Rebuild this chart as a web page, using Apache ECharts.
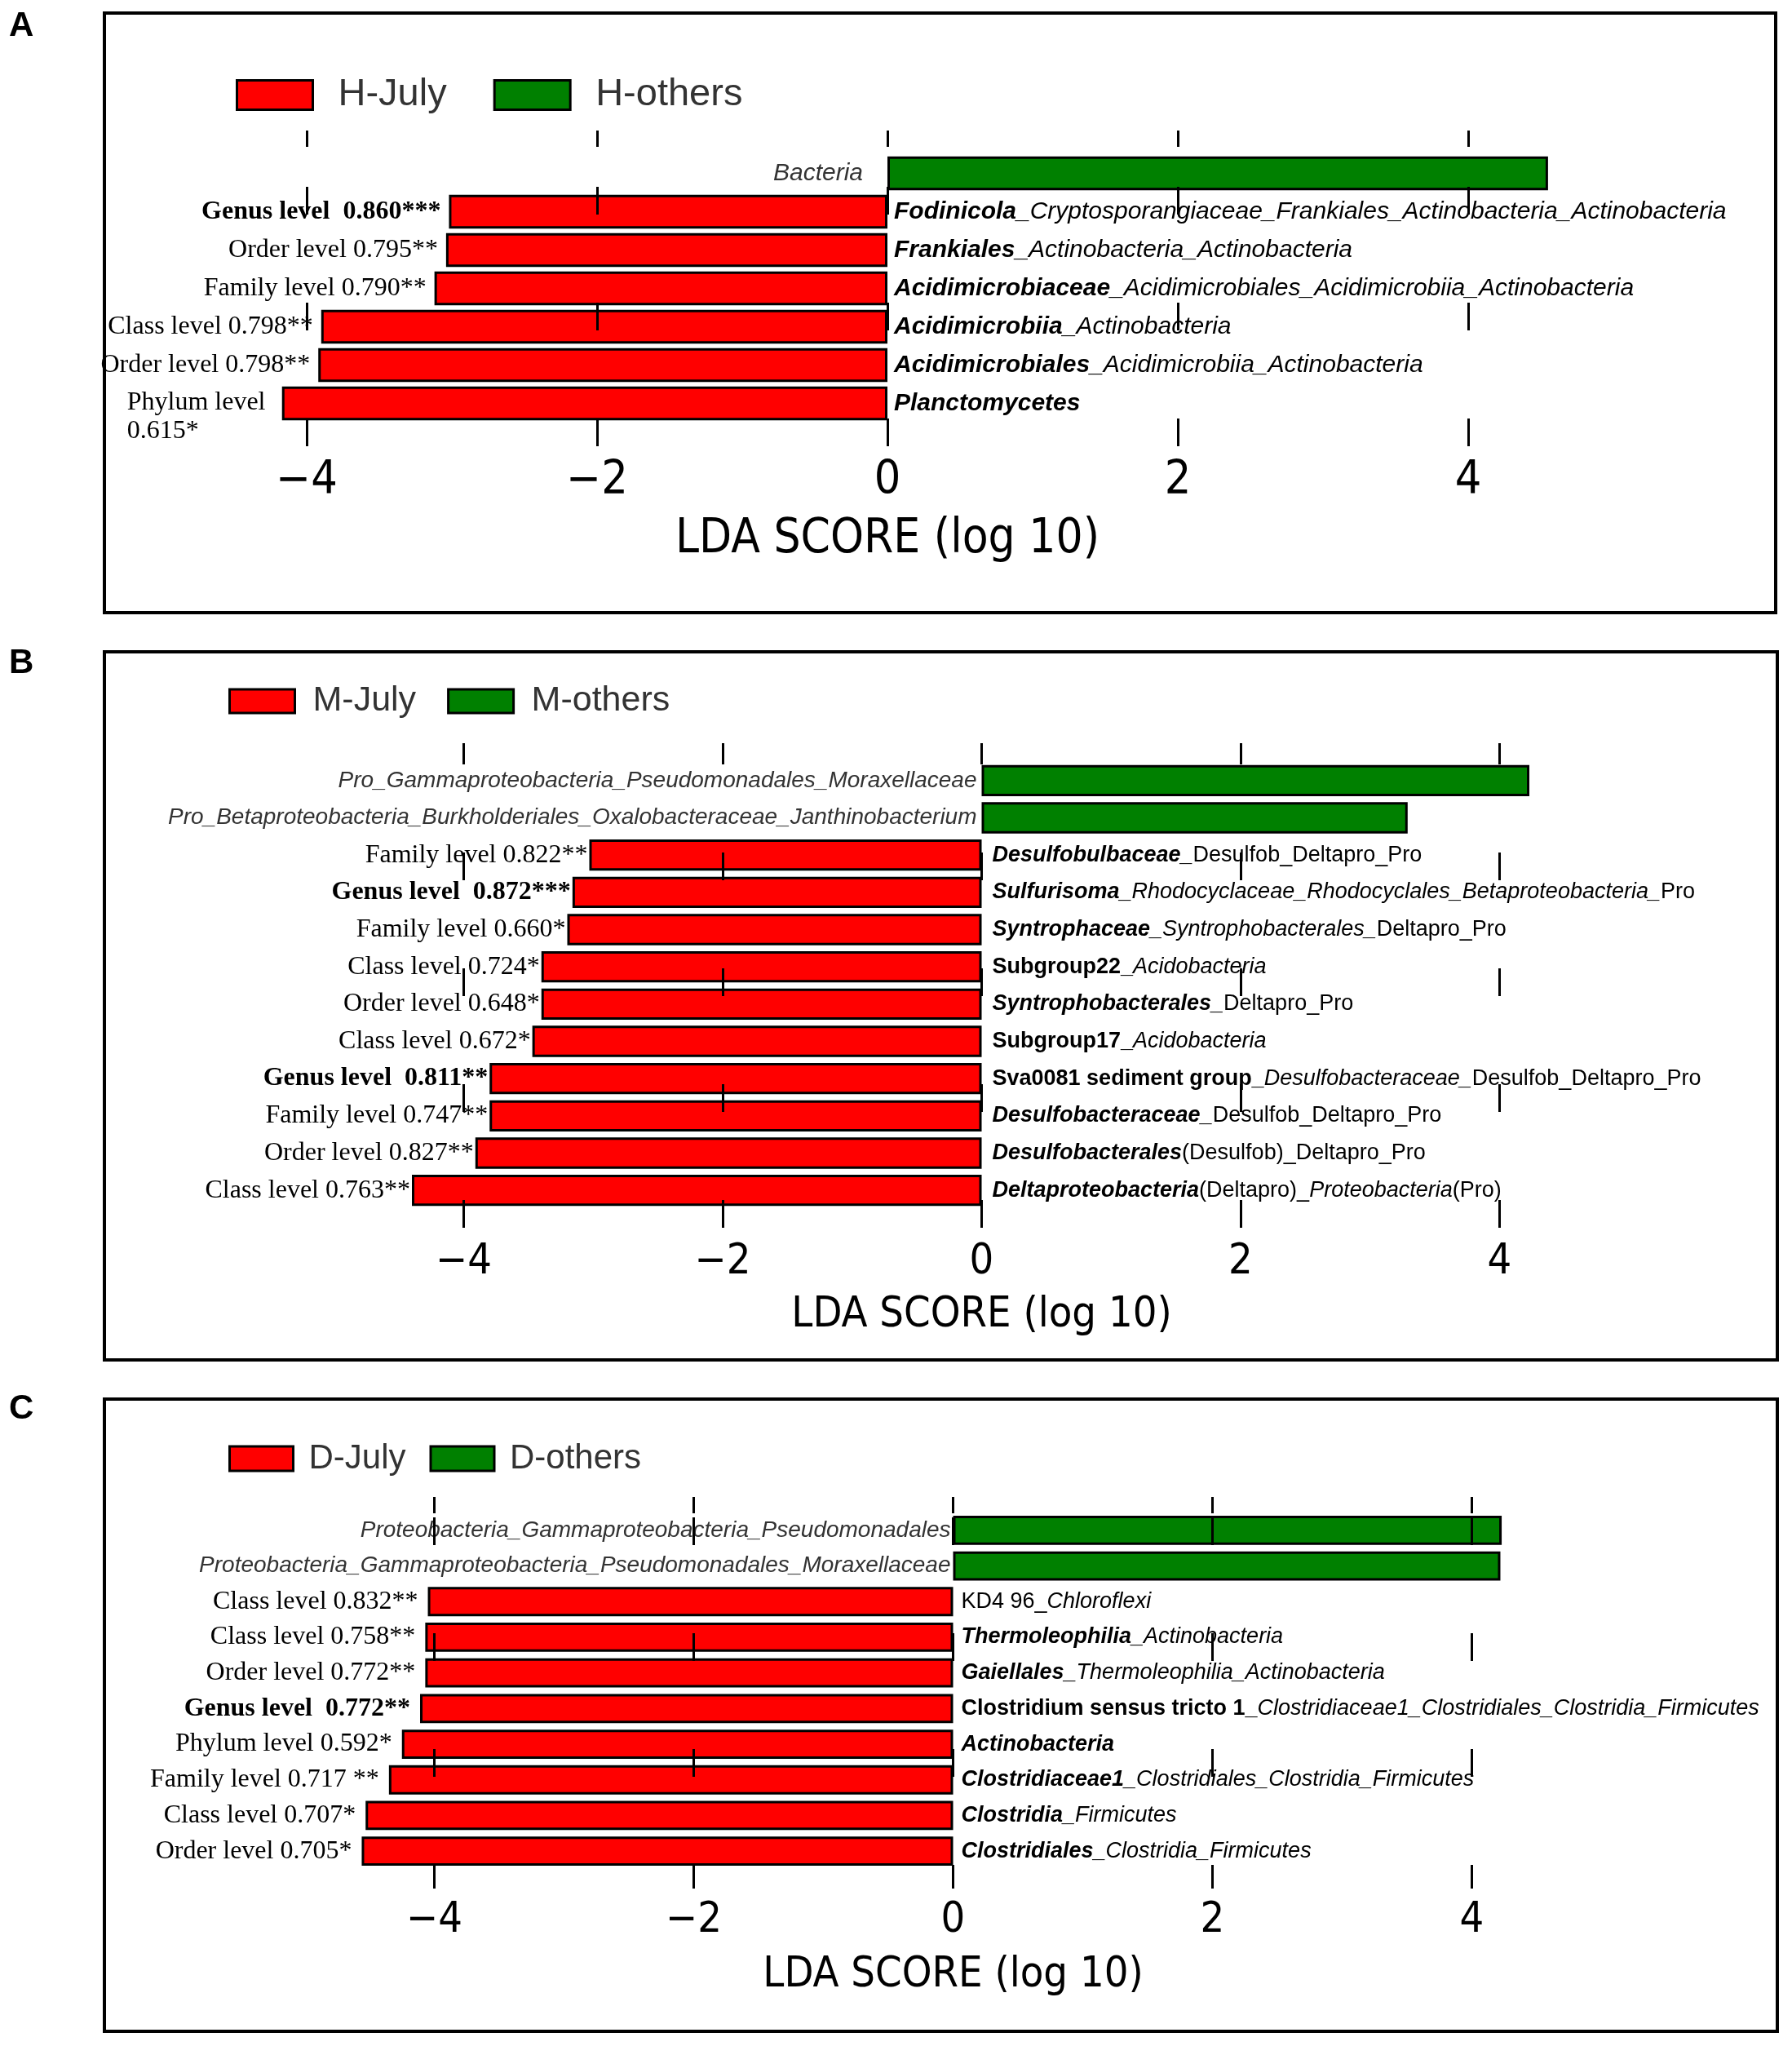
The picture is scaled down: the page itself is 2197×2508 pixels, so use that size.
<!DOCTYPE html>
<html lang="en">
<head>
<meta charset="UTF-8">
<title>LDA scores July vs others</title>
<script src="https://cdn.jsdelivr.net/npm/echarts@6/dist/echarts.min.js"></script>
<style>html,body{margin:0;padding:0;background:#fff;}</style>
</head>
<body>
<div id="main" style="width:2197px;height:2508px;"></div>
<script type="text/javascript">
// panel A (H)
var aTaxa = ['Bacteria',
    'Fodinicola_Cryptosporangiaceae_Frankiales_Actinobacteria_Actinobacteria',
    'Frankiales_Actinobacteria_Actinobacteria',
    'Acidimicrobiaceae_Acidimicrobiales_Acidimicrobiia_Actinobacteria',
    'Acidimicrobiia_Actinobacteria',
    'Acidimicrobiales_Acidimicrobiia_Actinobacteria',
    'Planctomycetes'];
var aJuly = ['-', -3.02, -3.04, -3.12, -3.90, -3.92, -4.17];
var aOthers = [4.55, '-', '-', '-', '-', '-', '-'];
var aLevels = ['', 'Genus level  0.860***', 'Order level 0.795**', 'Family level 0.790**',
    'Class level 0.798**', 'Order level 0.798**', 'Phylum level\n0.615*'];

// panel B (M)
var bTaxa = ['Pro_Gammaproteobacteria_Pseudomonadales_Moraxellaceae',
    'Pro_Betaproteobacteria_Burkholderiales_Oxalobacteraceae_Janthinobacterium',
    'Desulfobulbaceae_Desulfob_Deltapro_Pro',
    'Sulfurisoma_Rhodocyclaceae_Rhodocyclales_Betaproteobacteria_Pro',
    'Syntrophaceae_Syntrophobacterales_Deltapro_Pro',
    'Subgroup22_Acidobacteria',
    'Syntrophobacterales_Deltapro_Pro',
    'Subgroup17_Acidobacteria',
    'Sva0081 sediment group_Desulfobacteraceae_Desulfob_Deltapro_Pro',
    'Desulfobacteraceae_Desulfob_Deltapro_Pro',
    'Desulfobacterales(Desulfob)_Deltapro_Pro',
    'Deltaproteobacteria(Deltapro)_Proteobacteria(Pro)'];
var bJuly = ['-', '-', -3.03, -3.16, -3.20, -3.40, -3.40, -3.47, -3.80, -3.80, -3.91, -4.40];
var bOthers = [4.23, 3.29, '-', '-', '-', '-', '-', '-', '-', '-', '-', '-'];
var bLevels = ['', '', 'Family level 0.822**', 'Genus level  0.872***', 'Family level 0.660*',
    'Class level 0.724*', 'Order level 0.648*', 'Class level 0.672*', 'Genus level  0.811**',
    'Family level 0.747**', 'Order level 0.827**', 'Class level 0.763**'];

// panel C (D)
var cTaxa = ['Proteobacteria_Gammaproteobacteria_Pseudomonadales',
    'Proteobacteria_Gammaproteobacteria_Pseudomonadales_Moraxellaceae',
    'KD4 96_Chloroflexi',
    'Thermoleophilia_Actinobacteria',
    'Gaiellales_Thermoleophilia_Actinobacteria',
    'Clostridium sensus tricto 1_Clostridiaceae1_Clostridiales_Clostridia_Firmicutes',
    'Actinobacteria',
    'Clostridiaceae1_Clostridiales_Clostridia_Firmicutes',
    'Clostridia_Firmicutes',
    'Clostridiales_Clostridia_Firmicutes'];
var cJuly = ['-', '-', -4.05, -4.07, -4.07, -4.11, -4.25, -4.35, -4.53, -4.56];
var cOthers = [4.23, 4.22, '-', '-', '-', '-', '-', '-', '-', '-'];
var cLevels = ['', '', 'Class level 0.832**', 'Class level 0.758**', 'Order level 0.772**',
    'Genus level  0.772**', 'Phylum level 0.592*', 'Family level 0.717 **',
    'Class level 0.707*', 'Order level 0.705*'];

var ldaTicks = [-4, -2, 0, 2, 4];

// layout of the three panels (pixels)
var panels = [
    {letter: 'A', names: ['H-July', 'H-others'], taxa: aTaxa, july: aJuly, others: aOthers, levels: aLevels,
     frame: [128, 16, 2049, 735], letterTop: 6, zero: 1088, unit: 178, band: [189, 518], gap: '12%',
     lines: [160, 547, 229], tickFont: 57, nameFont: 58, margin: 15, nameGap: 86,
     taxFont: 30, greenFont: 30, greenDist: 30, taxDist: 8, levelDist: 10,
     lg: {left: 284, top: 88, w: 93, h: 36, font: 47, gap: 57, pad: 26}},
    {letter: 'B', names: ['M-July', 'M-others'], taxa: bTaxa, july: bJuly, others: bOthers, levels: bLevels,
     frame: [128, 799, 2051, 868], letterTop: 787, zero: 1203.5, unit: 158.75, band: [934, 1482], gap: '16%',
     lines: [911, 1507, 1045], tickFont: 52, nameFont: 52, margin: 14, nameGap: 79,
     taxFont: 27, greenFont: 28, greenDist: 6, taxDist: 13, levelDist: 2,
     lg: {left: 275, top: 833, w: 80, h: 29, font: 43, gap: 38, pad: 17}},
    {letter: 'C', names: ['D-July', 'D-others'], taxa: cTaxa, july: cJuly, others: cOthers, levels: cLevels,
     frame: [128, 1715, 2051, 775], letterTop: 1701, zero: 1168.5, unit: 159, band: [1854, 2291], gap: '18%',
     lines: [1835, 2315, 1860], tickFont: 52, nameFont: 52, margin: 13, nameGap: 80,
     taxFont: 27, greenFont: 28, greenDist: 3, taxDist: 10, levelDist: 12,
     lg: {left: 275, top: 1762, w: 78, h: 30, font: 42, gap: 29, pad: 14}}
];

var plainTokens = ['Desulfob', 'Deltapro', 'Pro', '(Desulfob)', '(Deltapro)', '(Pro)'];
var uprightHeads = ['Subgroup22', 'Subgroup17', 'Sva0081 sediment group', 'Clostridium sensus tricto 1'];

function taxonRich(name) {
    var parts = name.split(/(_|\([^)]*\))/).filter(function (s) { return s !== ''; });
    var out = '', st = 'bi';
    parts.forEach(function (p, k) {
        if (p !== '_') {
            if (k === 0) {
                st = p.indexOf('KD4') === 0 ? 'r' : (uprightHeads.indexOf(p) >= 0 ? 'b' : 'bi');
            } else {
                st = plainTokens.indexOf(p) >= 0 ? 'r' : 'i';
            }
        }
        out += '{' + st + '|' + p + '}';
    });
    return out;
}

function levelRich(text) {
    if (!text) return '';
    var bold = text.indexOf('Genus') === 0;
    var lines = text.split('\n');
    var st = lines.length > 1 ? 'lw' : (bold ? 'lb' : 'l');
    return lines.map(function (s) { return '{' + st + '|' + s + '}'; }).join('\n');
}

function minusFmt(v) {
    if (Math.abs(v) > 4) return '';
    return v < 0 ? '\u2212' + (-v) : String(v);
}

var option = {
    animation: false,
    backgroundColor: '#fff',
    title: [], legend: [], grid: [], xAxis: [], yAxis: [], series: [], graphic: []
};

panels.forEach(function (p, i) {
    var left = p.zero - 6 * p.unit, width = 12 * p.unit;
    var period = 142, s0 = p.lines[2] - p.lines[0];
    var dashOff = (period - s0 % period) % period;
    var taxF = p.taxFont;

    option.title.push({
        text: p.letter, left: 6, top: p.letterTop,
        textStyle: {fontSize: 42, fontWeight: 'bold', fontFamily: 'Liberation Sans', color: '#000'}
    });
    option.graphic.push({
        type: 'rect', z: 0,
        shape: {x: p.frame[0], y: p.frame[1], width: p.frame[2], height: p.frame[3]},
        style: {fill: 'none', stroke: '#000', lineWidth: 4}
    });
    option.legend.push({
        data: p.names, left: p.lg.left, top: p.lg.top, icon: 'rect', selectedMode: false,
        itemWidth: p.lg.w, itemHeight: p.lg.h, itemGap: p.lg.gap,
        itemStyle: {borderColor: '#000', borderWidth: 3},
        textStyle: {fontSize: p.lg.font, fontFamily: 'Liberation Sans', color: '#333', padding: [0, 0, 0, p.lg.pad]}
    });

    // grid for bars and grid for the dashed reference lines / axis
    option.grid.push({left: left, width: width, top: p.band[0], height: p.band[1] - p.band[0]});
    option.grid.push({left: left, width: width, top: p.lines[0], height: p.lines[1] - p.lines[0]});

    option.xAxis.push({gridIndex: 2 * i, type: 'value', min: -6, max: 6, interval: 2, show: false});
    option.xAxis.push({
        gridIndex: 2 * i + 1, type: 'value', min: -6, max: 6, interval: 2, position: 'bottom', z: 5,
        axisLine: {show: false}, axisTick: {show: false},
        axisLabel: {customValues: ldaTicks, formatter: minusFmt, margin: p.margin, color: '#000',
            fontSize: p.tickFont, fontFamily: 'DejaVu Sans Condensed'},
        splitLine: {show: true, showMinLine: false, showMaxLine: false,
            lineStyle: {color: '#000', width: 3, type: [34, 108], dashOffset: dashOff}},
        name: 'LDA SCORE (log 10)', nameLocation: 'middle', nameGap: p.nameGap,
        nameTextStyle: {fontSize: p.nameFont, fontFamily: 'DejaVu Sans Condensed', color: '#000'}
    });
    option.xAxis.push({
        gridIndex: 2 * i + 1, type: 'value', min: -6, max: 6, interval: 2, position: 'top', z: 5,
        axisLine: {show: false}, axisLabel: {show: false}, splitLine: {show: false},
        axisTick: {show: true, inside: true, length: 20, customValues: ldaTicks,
            lineStyle: {color: '#000', width: 3}}
    });
    option.yAxis.push({gridIndex: 2 * i, type: 'category', data: p.taxa, inverse: true, show: false});
    option.yAxis.push({gridIndex: 2 * i + 1, type: 'value', min: 0, max: 1, show: false});

    var taxRich = {
        bi: {fontSize: taxF, fontFamily: 'Liberation Sans', fontWeight: 'bold', fontStyle: 'italic', color: '#000'},
        b: {fontSize: taxF, fontFamily: 'Liberation Sans', fontWeight: 'bold', color: '#000'},
        i: {fontSize: taxF, fontFamily: 'Liberation Sans', fontStyle: 'italic', color: '#000'},
        r: {fontSize: taxF, fontFamily: 'Liberation Sans', color: '#000'}
    };

    option.series.push({
        name: p.names[0], type: 'bar', xAxisIndex: 3 * i, yAxisIndex: 2 * i,
        data: p.july, barCategoryGap: p.gap, barGap: '-100%',
        itemStyle: {color: '#ff0000', borderColor: '#000', borderWidth: 3},
        label: {show: true, position: 'right', distance: p.taxDist,
            formatter: function (d) { return taxonRich(p.taxa[d.dataIndex]); }, rich: taxRich}
    });
    option.series.push({
        name: p.names[1], type: 'bar', xAxisIndex: 3 * i, yAxisIndex: 2 * i,
        data: p.others, barCategoryGap: p.gap, barGap: '-100%',
        itemStyle: {color: '#008000', borderColor: '#000', borderWidth: 3},
        label: {show: true, position: 'left', distance: p.greenDist,
            fontSize: p.greenFont, fontFamily: 'Liberation Sans', fontStyle: 'italic', color: '#333',
            formatter: function (d) { return p.taxa[d.dataIndex]; }}
    });
    option.series.push({
        name: p.letter + '-level', type: 'bar', xAxisIndex: 3 * i, yAxisIndex: 2 * i, silent: true,
        data: p.july.map(function (v, k) {
            return p.levels[k].indexOf('\n') >= 0 ? {value: v, label: {offset: [0, 17]}} : v;
        }),
        barCategoryGap: p.gap, barGap: '-100%',
        itemStyle: {color: 'rgba(0,0,0,0)', borderWidth: 0},
        label: {show: true, position: 'left', distance: p.levelDist, color: '#000',
            formatter: function (d) { return levelRich(p.levels[d.dataIndex]); },
            rich: {
                l: {fontSize: 32, fontFamily: 'Liberation Serif', color: '#000'},
                lb: {fontSize: 32, fontFamily: 'Liberation Serif', fontWeight: 'bold', color: '#000'},
                lw: {fontSize: 32, fontFamily: 'Liberation Serif', color: '#000', width: 180, align: 'left', lineHeight: 35}
            }}
    });
});

var myChart = echarts.init(document.getElementById('main'));
myChart.setOption(option);
</script>
</body>
</html>
